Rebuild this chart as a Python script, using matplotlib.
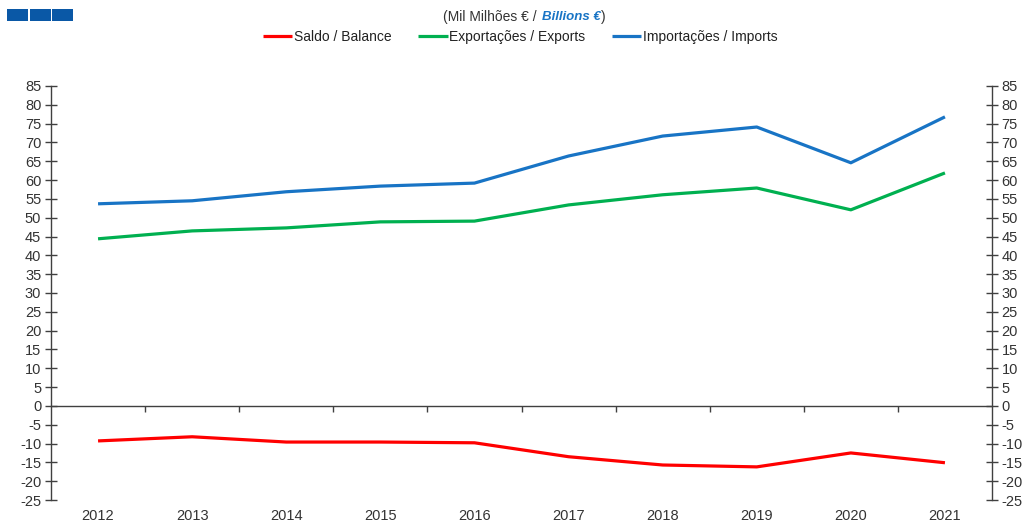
import matplotlib
matplotlib.use("Agg")
import matplotlib.pyplot as plt
from matplotlib.patches import Rectangle
from matplotlib.ticker import FixedLocator, NullFormatter

plt.rcParams['font.family'] = ['Liberation Sans', 'DejaVu Sans']
plt.rcParams['axes.unicode_minus'] = False

years = ['2012', '2013', '2014', '2015', '2016', '2017', '2018', '2019', '2020', '2021']
balance = [-9.3, -8.2, -9.6, -9.6, -9.8, -13.5, -15.7, -16.2, -12.5, -15.1]
exports = [44.4, 46.5, 47.3, 48.9, 49.1, 53.4, 56.1, 57.9, 52.1, 61.9]
imports = [53.7, 54.5, 56.9, 58.4, 59.2, 66.4, 71.7, 74.1, 64.6, 76.8]
yticks = list(range(-25, 90, 5))

W, H = 1027, 522
fig = plt.figure(figsize=(W / 100, H / 100), dpi=100)
ax = fig.add_axes([51 / W, 1 - 500 / H, (992 - 51) / W, (500 - 86) / H])

x = list(range(len(years)))
l1, = ax.plot(x, balance, color='#FF0000', lw=2.3, solid_capstyle='butt', label='Saldo / Balance')
l2, = ax.plot(x, exports, color='#00B050', lw=2.3, solid_capstyle='butt', label='Exportações / Exports')
l3, = ax.plot(x, imports, color='#1874C5', lw=2.3, solid_capstyle='butt', label='Importações / Imports')

ax.set_xlim(-0.5, len(years) - 0.5)
ax.set_ylim(-25, 85)
ax.spines['top'].set_visible(False)
ax.spines['bottom'].set_position(('data', 0))
for s in ['left', 'right', 'bottom']:
    ax.spines[s].set_color('#404040')
    ax.spines[s].set_linewidth(1.0)

ax.set_yticks(yticks)
ax.tick_params(axis='y', direction='inout', length=8, width=1, color='#404040',
               labelsize=10.5, labelcolor='#333333', left=True, right=True,
               labelleft=True, labelright=True, pad=3)

# x ticks at category boundaries, labels at centres (below the plot area)
ax.xaxis.set_major_locator(FixedLocator([i + 0.5 for i in range(len(years) - 1)]))
ax.xaxis.set_major_formatter(NullFormatter())
ax.tick_params(axis='x', direction='out', length=4, width=1, color='#404040')
for i, yl in enumerate(years):
    ax.text(i, -16 / 414, yl, transform=ax.get_xaxis_transform(), ha='center', va='center',
            fontsize=10.5, color='#333333')

# decorative blue squares
for i in range(3):
    fig.patches.append(Rectangle(((7 + i * 22.5) / W, 1 - 21 / H), 21 / W, 12 / H,
                                 transform=fig.transFigure, facecolor='#0A58A6',
                                 edgecolor='none', lw=0))

# subtitle built from consecutive pieces
pieces = [('(Mil Milhões € / ', dict(fontsize=10, color='#333333')),
          ('Billions €', dict(fontsize=9.5, color='#1874C5', fontweight='bold', fontstyle='italic')),
          (')', dict(fontsize=10, color='#333333'))]
gaps = [2, 0, 0]
renderer = fig.canvas.get_renderer()
texts = [fig.text(0, 1 - 17 / H, s, ha='left', va='center', **kw) for s, kw in pieces]
widths = [t.get_window_extent(renderer).width for t in texts]
xpos = 524 - (sum(widths) + sum(gaps)) / 2
for t, w, g in zip(texts, widths, gaps):
    t.set_x(xpos / W)
    xpos += w + g

fig.legend(handles=[l1, l2, l3], loc='center', bbox_to_anchor=(520 / W, 1 - 37 / H),
           ncol=3, frameon=False, fontsize=10, handlelength=2.15, handletextpad=0.1,
           columnspacing=1.9, labelcolor='#222222')

fig.savefig('out.png', dpi=100)
